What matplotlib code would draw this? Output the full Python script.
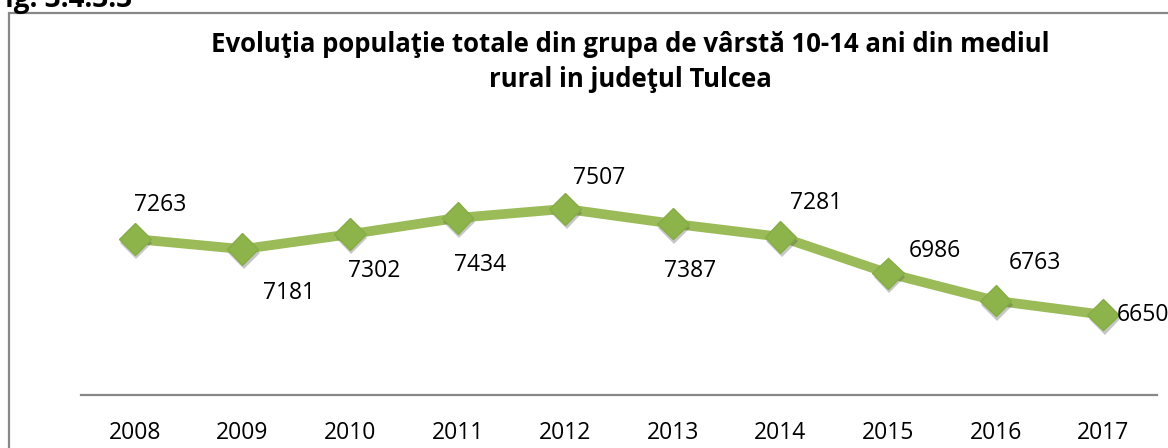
import matplotlib
matplotlib.use("Agg")
import matplotlib.pyplot as plt
import matplotlib.patheffects as pe
from matplotlib.patches import Rectangle

years = ["2008", "2009", "2010", "2011", "2012", "2013", "2014", "2015", "2016", "2017"]
population = [7263, 7181, 7302, 7434, 7507, 7387, 7281, 6986, 6763, 6650]
title = "Evoluţia populaţie totale din grupa de vârstă 10-14 ani din mediul\nrural in judeţul Tulcea"

# label offsets in pixels (dx right, dy up), hand placed like the original
label_offsets = [(25, 34), (47, -44), (24, -37), (22, -47), (34, 31),
                 (17, -47), (36, 34), (47, 22), (39, 38), (14, 0)]

W, H = 1168, 448
plt.rcParams["font.family"] = ["Open Sans", "DejaVu Sans"]
fig = plt.figure(figsize=(W / 100, H / 100), dpi=100)

# outer chart frame (cut off on right and bottom)
fig.patches.append(Rectangle((8.5 / W, -0.1), 1.2, (H - 13.5) / H + 0.1,
                             transform=fig.transFigure, fill=False,
                             edgecolor="#888888", linewidth=1.6))
fig.text(-10 / W, (H - 7) / H, "Fig. 3.4.3.3", fontsize=20, fontweight="bold",
         va="baseline", ha="left")

ax = fig.add_axes([81 / W, 53 / H, 1076 / W, 247 / H])
x = range(len(years))
ax.plot(x, population, color="#9BBB59", linewidth=7, solid_capstyle="round")
ax.plot(x, population, linestyle="none", marker="D", markersize=16,
        markerfacecolor="#8DB34B", markeredgecolor="#86AD45", markeredgewidth=1,
        path_effects=[pe.SimplePatchShadow(offset=(1, -3), shadow_rgbFace="#444444", alpha=0.3),
                      pe.Normal()])

for i, v in enumerate(population):
    dx, dy = label_offsets[i]
    ha = "left" if i == len(population) - 1 else "center"
    ax.annotate(str(v), (i, v), xytext=(dx, dy), textcoords="offset pixels",
                ha=ha, va="center", fontsize=16.5, color="black")

ax.set_xlim(-0.5, len(years) - 0.5)
ax.set_ylim(6000, 8000)
ax.set_xticks(list(x))
ax.set_xticklabels(years, fontsize=16.5)
ax.tick_params(axis="x", length=0, pad=19)
ax.set_yticks([])
for s in ["top", "right", "left"]:
    ax.spines[s].set_visible(False)
ax.spines["bottom"].set_color("#888888")
ax.spines["bottom"].set_linewidth(1.6)
ax.patch.set_alpha(0)

fig.text(630 / W, (H - 62) / H, title, ha="center", va="center", fontsize=18.5,
         fontweight="bold", linespacing=1.4)

fig.savefig("out.png", dpi=100)
